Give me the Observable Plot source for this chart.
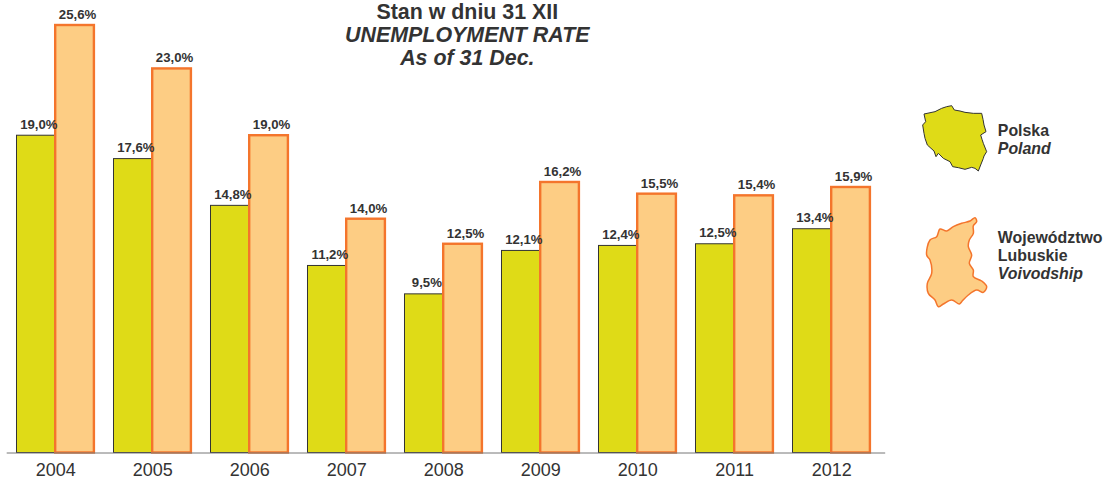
<!DOCTYPE html>
<html>
<head>
<meta charset="utf-8">
<script src="https://cdn.jsdelivr.net/npm/d3@7"></script>
<script src="https://cdn.jsdelivr.net/npm/@observablehq/plot@0.6"></script>
<style>
html,body{margin:0;padding:0;background:#fff;}
#wrap{position:relative;width:1106px;height:479px;}
#wrap svg{position:absolute;left:0;top:0;display:block;}
</style>
</head>
<body>
<div id="wrap"></div>
<script>
const years = [2004,2005,2006,2007,2008,2009,2010,2011,2012];
const poland = [19.0,17.6,14.8,11.2,9.5,12.1,12.4,12.5,13.4];
const lubuskie = [25.6,23.0,19.0,14.0,12.5,16.2,15.5,15.4,15.9];
const titleLines = ["Stan w dniu 31 XII","UNEMPLOYMENT RATE","As of 31 Dec."];
const legendPoland = ["Polska","Poland"];
const legendLubuskie = ["Województwo","Lubuskie","Voivodship"];

const fmt = v => v.toFixed(1).replace(".", ",") + "%";
const polandRows = years.map((year,i)=>({year,value:poland[i]}));
const lubuskieRows = years.map((year,i)=>({year,value:lubuskie[i]}));
const halfBar = 0.399, step = 97.0, x0 = 55.2, W = 1106;
const font = "'Liberation Sans', Arial, sans-serif";
const ink = "#333333";

function blockText(lines, left, top, lineH, opts, italicFrom){
  return lines.map((t,i)=>Plot.text([t],{
    text:d=>d, frameAnchor:"top-left", dx:left, dy:top+i*lineH, lineAnchor:"top",
    fontFamily:font, fill:ink, fontWeight:"bold",
    fontStyle:i>=italicFrom?"italic":"normal", ...opts
  }));
}

const chart = Plot.plot({
  width:W, height:479, margin:0, marginBottom:27,
  style:{background:"transparent",fontFamily:font,overflow:"visible"},
  x:{domain:[2004-x0/step,2004+(W-x0)/step],range:[0,W],axis:null},
  y:{domain:[0,25.6],range:[452.5,25],axis:null},
  marks:[
    Plot.rectY(polandRows,{x1:d=>d.year-halfBar,x2:"year",y:"value",fill:"#dfdb17",stroke:"#333333",strokeWidth:1}),
    Plot.rectY(lubuskieRows,{x1:"year",x2:d=>d.year+halfBar,y:"value",fill:"#fdcd84",stroke:"#f4752c",strokeWidth:2.4}),
    Plot.ruleY([0],{x1:2004-48.5/step,x2:2004+830/step,stroke:"#777777",strokeWidth:1}),
    Plot.text(polandRows,{x:d=>d.year-halfBar/2,y:"value",text:d=>fmt(d.value),dx:2.5,dy:-11.3,
      fontSize:13.2,fontWeight:"bold",fontFamily:font,fill:ink}),
    Plot.text(lubuskieRows,{x:d=>d.year+halfBar/2,y:"value",text:d=>fmt(d.value),dx:2.5,dy:-10.8,
      fontSize:13.2,fontWeight:"bold",fontFamily:font,fill:ink}),
    Plot.text(years,{x:d=>d,y:0,text:d=>String(d),dy:17,fontSize:18,fontFamily:font,fill:ink}),
    ...blockText(titleLines,466.8,2.8,23,{fontSize:21.4,textAnchor:"middle"},1),
    ...blockText(legendPoland,997.3,124.4,17.6,{fontSize:15.9,textAnchor:"start"},1),
    ...blockText(legendLubuskie,997.3,231,18,{fontSize:15.9,textAnchor:"start"},2)
  ]
});
const wrap = document.getElementById("wrap");
wrap.appendChild(chart);

// decorative legend glyphs (region outlines, not data)
const ns = "http://www.w3.org/2000/svg";
const glyphs = document.createElementNS(ns,"svg");
glyphs.setAttribute("width",W); glyphs.setAttribute("height",479);
const outlines = [
 {ox:910,oy:90,fill:"#dfdb17",stroke:"#333333",w:1,curve:d3.curveLinearClosed,
  pts:[[42,72],[75,65],[95,55],[110,50],[125,47],[133,60],[150,63],[165,67],[190,70],[215,70],[219,88],[222,105],[228,125],[212,135],[216,148],[220,160],[230,185],[222,198],[220,205],[212,225],[205,243],[195,235],[185,232],[165,238],[145,233],[128,230],[120,215],[100,205],[85,190],[78,200],[72,183],[52,165],[45,145],[42,130],[38,105],[47,95]]},
 {ox:910,oy:205,fill:"#fdcd84",stroke:"#f4752c",w:1.5,curve:d3.curveCatmullRomClosed,
  pts:[[195,38],[200,50],[190,62],[190,85],[178,105],[175,125],[185,150],[178,175],[190,195],[190,215],[215,228],[230,245],[220,262],[200,255],[175,270],[155,290],[148,297],[125,285],[100,297],[85,305],[75,285],[55,265],[52,235],[65,205],[60,165],[50,150],[60,105],[80,95],[90,72],[110,78],[130,65],[155,55],[180,48]]}
];
for(const o of outlines){
  const p = document.createElementNS(ns,"path");
  p.setAttribute("d",d3.line().x(d=>o.ox+d[0]/3).y(d=>o.oy+d[1]/3).curve(o.curve)(o.pts));
  p.setAttribute("fill",o.fill); p.setAttribute("stroke",o.stroke); p.setAttribute("stroke-width",o.w);
  p.setAttribute("stroke-linejoin","round");
  glyphs.appendChild(p);
}
wrap.appendChild(glyphs);
</script>
</body>
</html>
